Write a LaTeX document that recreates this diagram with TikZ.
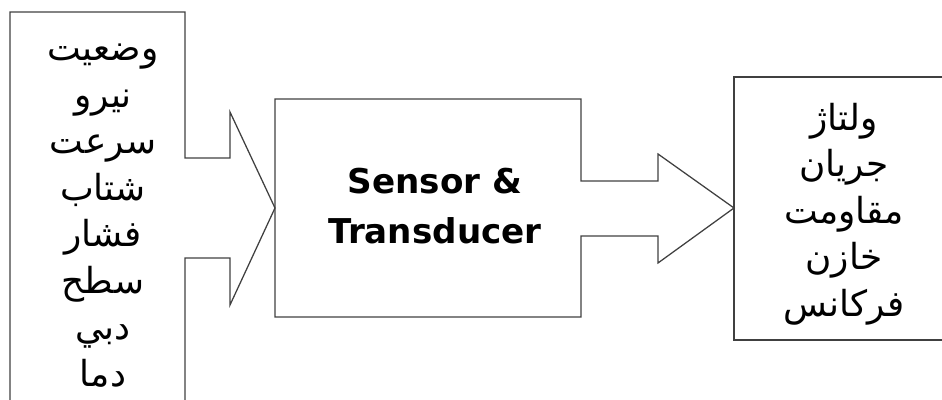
\documentclass[tikz,border=0pt]{standalone}
\usepackage{fontspec}
\setmainfont{DejaVu Sans}
\newfontfamily\arabicfont[Script=Arabic]{DejaVu Sans}
\TeXXeTstate=1
\newcommand{\rtl}[1]{\beginR #1\endR}

\tikzset{
  blockline/.style={line width=0.9pt, draw=black!75, line join=miter},
  fatext/.style={align=center, inner sep=0pt, font=\arabicfont\fontsize{25.5}{33.1}\selectfont},
  entext/.style={align=center, inner sep=0pt, font=\bfseries\fontsize{24.3}{35.6}\selectfont},
}

\begin{document}
\begin{tikzpicture}
  \useasboundingbox (0, 0) rectangle (23.55, 10);
  \clip (0, 0) rectangle (23.55, 10);
  % input column, opening into its block arrow
  \draw[blockline] (4.625, -0.5) -- (4.625, 3.55) -- (5.75, 3.55) -- (5.75, 2.375)
    -- (6.875, 4.8) -- (5.75, 7.2) -- (5.75, 6.05) -- (4.625, 6.05)
    -- (4.625, 9.7) -- (0.25, 9.7) -- (0.25, -0.5);
  % sensor block and output arrow
  \draw[blockline] (14.525, 5.475) -- (14.525, 7.525) -- (6.875, 7.525) -- (6.875, 2.075)
    -- (14.525, 2.075) -- (14.525, 4.1) -- (16.45, 4.1) -- (16.45, 3.425)
    -- (18.35, 4.8) -- (16.45, 6.15) -- (16.45, 5.475) -- cycle;
  % output column
  \draw[blockline] (24, 8.075) -- (18.35, 8.075) -- (18.35, 1.5) -- (24, 1.5);

  \node[fatext] (inputs) at (2.575, 4.61) {\rtl{وضعیت}\\ \rtl{نیرو}\\ \rtl{سرعت}\\ \rtl{شتاب}\\
    \rtl{فشار}\\ \rtl{سطح}\\ \rtl{دبي}\\ \rtl{دما}};
  \node[entext] (sensor) at (10.875, 4.86) {Sensor \&\\ Transducer};
  \node[fatext] (outputs) at (21.1, 4.65) {\rtl{ولتاژ}\\ \rtl{جریان}\\ \rtl{مقاومت}\\ \rtl{خازن}\\
    \rtl{فرکانس}};
\end{tikzpicture}
\end{document}
